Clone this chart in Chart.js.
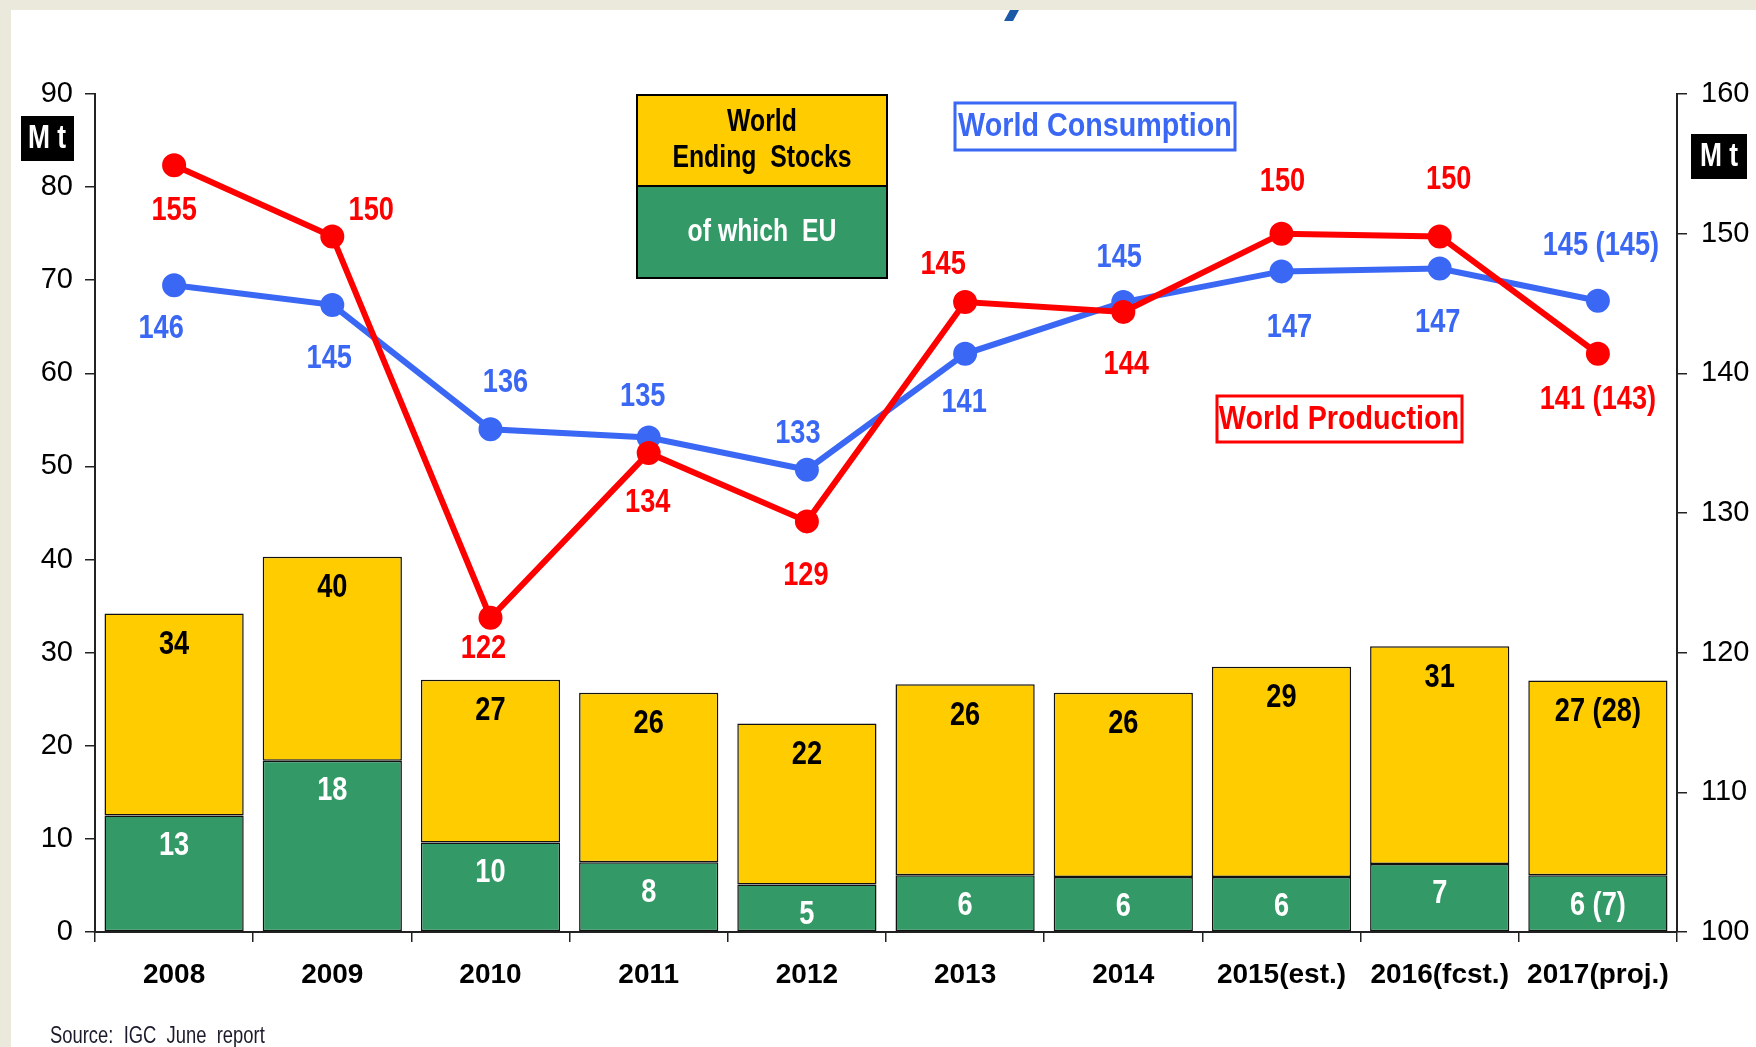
<!DOCTYPE html>
<html>
<head>
<meta charset="utf-8">
<script src="https://cdn.jsdelivr.net/npm/chart.js@4.4.1/dist/chart.umd.min.js"></script>
<style>
  body { margin: 0; background: #ebe8dc; }
  #chart { display: block; }
</style>
</head>
<body>
<canvas id="chart" width="1756" height="1047" style="width:1756px;height:1047px"></canvas>
<script>
// values
var years = ['2008', '2009', '2010', '2011', '2012', '2013', '2014', '2015(est.)', '2016(fcst.)', '2017(proj.)'];
var worldStocks = [34.2, 40.3, 27.1, 25.7, 22.4, 26.6, 25.7, 28.5, 30.7, 27.0];
var euStocks = [12.5, 18.4, 9.6, 7.5, 5.1, 6.1, 5.9, 5.9, 7.3, 6.1];
var production = [154.9, 149.8, 122.5, 134.3, 129.4, 145.1, 144.4, 150.0, 149.8, 141.4];
var consumption = [146.3, 144.9, 136.0, 135.4, 133.1, 141.4, 145.1, 147.3, 147.5, 145.2];

var stockLabels = ['34', '40', '27', '26', '22', '26', '26', '29', '31', '27 (28)'];
var euLabels = ['13', '18', '10', '8', '5', '6', '6', '6', '7', '6 (7)'];
var prodLabels = ['155', '150', '122', '134', '129', '145', '144', '150', '150', '141 (143)'];
var consLabels = ['146', '145', '136', '135', '133', '141', '145', '147', '147', '145 (145)'];

var leftTicks = [0, 10, 20, 30, 40, 50, 60, 70, 80, 90];
var rightTicks = [100, 110, 120, 130, 140, 150, 160];

// label offsets from the point (px)
var prodOffsets = [[0,45],[39,-26],[-7,31],[-1,50],[-1,54],[-22,-37],[3,53],[1,-52],[9,-57],[0,46]];
var consOffsets = [[-13,43],[-3,54],[15,-47],[-6,-41],[-9,-36],[-1,49],[-4,-44],[8,56],[-2,54],[3,-55]];

var FONT = '"Liberation Sans", Arial, sans-serif';
var RED = '#ff0000';
var BLUE = '#3a68f5';
var YELLOW = '#ffcc00';
var GREEN = '#339966';
var SX = 0.8; // no narrow face installed, squeeze the drawn text

var restStocks = worldStocks.map(function(v, i) { return v - euStocks[i]; });

var backgroundPlugin = {
    id: 'bg',
    beforeDraw: function(chart) {
        var ctx = chart.ctx;
        ctx.save();
        ctx.fillStyle = '#ebe8dc';
        ctx.fillRect(0, 0, chart.width, chart.height);
        ctx.fillStyle = '#ffffff';
        ctx.fillRect(11, 10, chart.width - 11, chart.height - 10);
        // bit of the cut-off title
        ctx.fillStyle = '#1b5aa6';
        ctx.beginPath();
        ctx.moveTo(1010, 10);
        ctx.lineTo(1019, 10);
        ctx.lineTo(1013, 21);
        ctx.lineTo(1004, 21);
        ctx.closePath();
        ctx.fill();
        ctx.restore();
    }
};

function narrow(ctx, text, x, y, sx) {
    ctx.save();
    ctx.translate(x, y);
    ctx.scale(sx || SX, 1);
    ctx.fillText(text, 0, 0);
    ctx.restore();
}

function box(ctx, x, y, w, h, fill, stroke, lw) {
    if (fill) {
        ctx.fillStyle = fill;
        ctx.fillRect(x, y, w, h);
    }
    if (stroke) {
        ctx.strokeStyle = stroke;
        ctx.lineWidth = lw;
        ctx.strokeRect(x, y, w, h);
    }
}

var labelsPlugin = {
    id: 'labels',
    afterDatasetsDraw: function(chart) {
        var ctx = chart.ctx;
        ctx.save();
        ctx.textAlign = 'center';
        ctx.textBaseline = 'middle';
        ctx.font = 'bold 34px ' + FONT;

        // bar labels
        var euMeta = chart.getDatasetMeta(2);
        var restMeta = chart.getDatasetMeta(3);
        euMeta.data.forEach(function(bar, i) {
            ctx.fillStyle = '#ffffff';
            narrow(ctx, euLabels[i], bar.x, bar.y + 30);
        });
        restMeta.data.forEach(function(bar, i) {
            ctx.fillStyle = '#000000';
            narrow(ctx, stockLabels[i], bar.x, bar.y + 31);
        });

        // line labels
        var prodMeta = chart.getDatasetMeta(0);
        var consMeta = chart.getDatasetMeta(1);
        prodMeta.data.forEach(function(pt, i) {
            ctx.fillStyle = RED;
            narrow(ctx, prodLabels[i], pt.x + prodOffsets[i][0], pt.y + prodOffsets[i][1]);
        });
        consMeta.data.forEach(function(pt, i) {
            ctx.fillStyle = BLUE;
            narrow(ctx, consLabels[i], pt.x + consOffsets[i][0], pt.y + consOffsets[i][1]);
        });

        // legend boxes
        box(ctx, 637, 95, 250, 91, YELLOW, '#000', 2);
        box(ctx, 637, 186, 250, 92, GREEN, '#000', 2);
        ctx.font = 'bold 31px ' + FONT;
        ctx.fillStyle = '#000';
        narrow(ctx, 'World', 762, 122);
        narrow(ctx, 'Ending  Stocks', 762, 158);
        ctx.fillStyle = '#fff';
        narrow(ctx, 'of which  EU', 762, 232);

        ctx.font = 'bold 33px ' + FONT;
        box(ctx, 955, 103, 280, 47, '#fff', BLUE, 3);
        ctx.fillStyle = BLUE;
        narrow(ctx, 'World Consumption', 1095, 127, 0.87);

        box(ctx, 1217, 396, 245, 46, '#fff', RED, 3);
        ctx.fillStyle = RED;
        narrow(ctx, 'World Production', 1339, 420, 0.87);

        // unit boxes
        ctx.font = 'bold 33px ' + FONT;
        box(ctx, 21, 116, 53, 45, '#000');
        box(ctx, 1691, 134, 56, 45, '#000');
        ctx.fillStyle = '#fff';
        narrow(ctx, 'M t', 47, 139);
        narrow(ctx, 'M t', 1719, 157);

        // source
        ctx.textAlign = 'left';
        ctx.font = '23px ' + FONT;
        ctx.fillStyle = '#1b1b2b';
        ctx.save();
        ctx.translate(50, 1037);
        ctx.scale(0.8, 1);
        ctx.fillText('Source:  IGC  June  report', 0, 0);
        ctx.restore();
        ctx.restore();
    }
};

var ctx = document.getElementById('chart').getContext('2d');
var chart = new Chart(ctx, {
    type: 'bar',
    data: {
        labels: years,
        datasets: [
            {
                type: 'line',
                label: 'World Production',
                data: production,
                yAxisID: 'y1',
                borderColor: RED,
                backgroundColor: RED,
                borderWidth: 6,
                pointRadius: 9,
                pointHoverRadius: 9,
                tension: 0,
                order: 0
            },
            {
                type: 'line',
                label: 'World Consumption',
                data: consumption,
                yAxisID: 'y1',
                borderColor: BLUE,
                backgroundColor: BLUE,
                borderWidth: 6,
                pointRadius: 9,
                pointHoverRadius: 9,
                tension: 0,
                order: 1
            },
            {
                label: 'of which EU',
                data: euStocks,
                yAxisID: 'y',
                stack: 'stocks',
                backgroundColor: GREEN,
                borderColor: '#111',
                borderWidth: 1.5,
                borderSkipped: false,
                barPercentage: 0.88,
                categoryPercentage: 1,
                order: 2
            },
            {
                label: 'World Ending Stocks',
                data: restStocks,
                yAxisID: 'y',
                stack: 'stocks',
                backgroundColor: YELLOW,
                borderColor: '#111',
                borderWidth: 1.5,
                borderSkipped: false,
                barPercentage: 0.88,
                categoryPercentage: 1,
                order: 2
            }
        ]
    },
    options: {
        responsive: false,
        animation: false,
        devicePixelRatio: 1,
        layout: { padding: { top: 94, left: 0, right: 0, bottom: 0 } },
        plugins: {
            legend: { display: false },
            tooltip: { enabled: false }
        },
        scales: {
            x: {
                stacked: true,
                offset: true,
                grid: { drawOnChartArea: false, tickLength: 10, color: '#222', lineWidth: 1.5, offset: true },
                border: { color: '#222', width: 2 },
                ticks: { color: '#000', font: { family: FONT, size: 28, weight: 'bold' }, padding: 16, maxRotation: 0, autoSkip: false },
                afterFit: function(scale) { scale.height = 115; }
            },
            y: {
                position: 'left',
                stacked: true,
                min: leftTicks[0],
                max: leftTicks[leftTicks.length - 1],
                afterBuildTicks: function(scale) { scale.ticks = leftTicks.map(function(v) { return { value: v }; }); },
                grid: { drawOnChartArea: false, tickLength: 10, color: '#222', lineWidth: 1.5 },
                border: { color: '#222', width: 2 },
                ticks: { color: '#000', font: { family: FONT, size: 29 }, padding: 12 },
                afterFit: function(scale) { scale.width = 95; }
            },
            y1: {
                position: 'right',
                min: rightTicks[0],
                max: rightTicks[rightTicks.length - 1],
                afterBuildTicks: function(scale) { scale.ticks = rightTicks.map(function(v) { return { value: v }; }); },
                grid: { drawOnChartArea: false, tickLength: 10, color: '#222', lineWidth: 1.5 },
                border: { color: '#222', width: 2 },
                ticks: { color: '#000', font: { family: FONT, size: 29 }, padding: 14 },
                afterFit: function(scale) { scale.width = 79; }
            }
        }
    },
    plugins: [backgroundPlugin, labelsPlugin]
});
</script>
</body>
</html>
